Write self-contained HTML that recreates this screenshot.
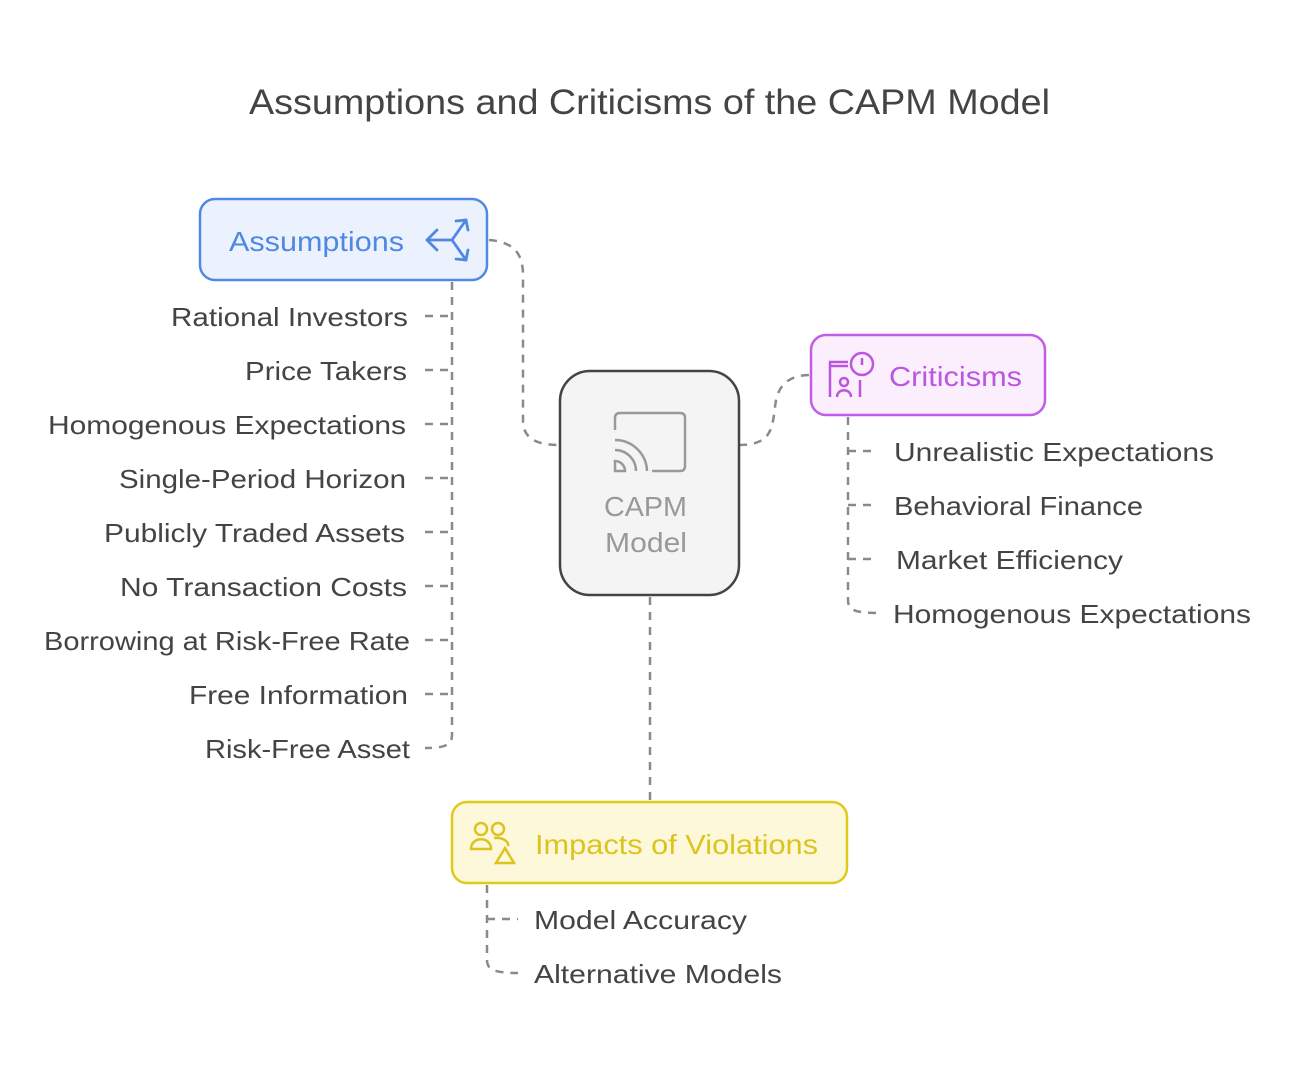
<!DOCTYPE html>
<html><head><meta charset="utf-8"><style>
body{margin:0;background:#fff}
text{font-family:"Liberation Sans",Roboto,sans-serif}
</style></head><body>
<svg width="1299" height="1065" viewBox="0 0 1299 1065" xmlns="http://www.w3.org/2000/svg">
<rect width="1299" height="1065" fill="#fff"/>
<text x="249" y="114" font-size="35" fill="#444" textLength="801" lengthAdjust="spacingAndGlyphs">Assumptions and Criticisms of the CAPM Model</text>
<g fill="none" stroke="#8a8a8a" stroke-width="2.5" stroke-dasharray="8,7">
<path d="M489,240 C515,242 523,255 523,275 L523,420 C523,438 535,445 560,445"/>
<path d="M739,445 C775,445 772,425 776,400 C780,382 792,375 811,375"/>
<path d="M650,597 L650,802"/>
<path d="M452,282 L452,735 C452,745 445,748 425,748"/>
<path d="M848,417 L848,600 C848,610 855,613 878,613"/>
<path d="M487,885 L487,960 C487,970 495,973 518,973"/>
</g>
<g stroke="#8a8a8a" stroke-width="2.5" stroke-dasharray="8,7" fill="none">
<path d="M425,316H452M425,370H452M425,424H452M425,478H452M425,532H452M425,586H452M425,640H452M425,694H452"/>
<path d="M848,451H878M848,505H878M848,559H878"/>
<path d="M487,919H518"/>
</g>
<rect x="200" y="199" width="287" height="81" rx="15" fill="#ebf2fe" stroke="#5089e4" stroke-width="2.5"/>
<text x="229" y="251" font-size="28" fill="#4f88e3" textLength="175" lengthAdjust="spacingAndGlyphs">Assumptions</text>
<g stroke="#4f88e3" stroke-width="2.8" fill="none" stroke-linecap="round" stroke-linejoin="round">
<path d="M427,240H452L466,220M452,240L466,260"/><path d="M437,230L427,240L437,250"/><path d="M456,221L466,220L468,230"/><path d="M456,259L466,260L468,250"/>
</g>
<rect x="811" y="335" width="234" height="80" rx="15" fill="#fbeefd" stroke="#c05ce6" stroke-width="2.5"/>
<text x="889" y="386" font-size="28" fill="#bb56e0" textLength="133" lengthAdjust="spacingAndGlyphs">Criticisms</text>
<g stroke="#bb56e0" stroke-width="2.5" fill="none">
<path d="M830,397V362H848"/><path d="M831,366H848"/><circle cx="862" cy="364" r="11"/><path d="M862,358V365"/><circle cx="844" cy="382" r="4"/><path d="M837,397C837,388 851,388 851,397"/><path d="M860,380V397"/>
</g>
<rect x="560" y="371" width="179" height="224" rx="30" fill="#f4f4f4" stroke="#444" stroke-width="2.5"/>
<g stroke="#999" stroke-width="2.5" fill="none">
<path d="M615,430V418Q615,413 620,413H680Q685,413 685,418V466Q685,471 680,471H652"/><path d="M615,440A32,32 0 0 1 647,471"/><path d="M615,450A21,21 0 0 1 636,471"/><path d="M615,461A10,10 0 0 1 625,471H615Z"/>
</g>
<text x="604" y="516" font-size="28" fill="#999" textLength="83" lengthAdjust="spacingAndGlyphs">CAPM</text>
<text x="605" y="552" font-size="28" fill="#999" textLength="82" lengthAdjust="spacingAndGlyphs">Model</text>
<rect x="452" y="802" width="395" height="81" rx="15" fill="#fdf8d9" stroke="#e1c81c" stroke-width="2.5"/>
<text x="535" y="854" font-size="28" fill="#dcc420" textLength="283" lengthAdjust="spacingAndGlyphs">Impacts of Violations</text>
<g stroke="#dcc420" stroke-width="2.5" fill="none">
<circle cx="481" cy="829" r="6"/><circle cx="498" cy="829" r="6"/><path d="M471,849C471,836 491,836 491,849Z"/><path d="M494,838C505,837 509,843 508,846"/><path d="M505,848L514,863H496Z"/>
</g>
<g font-size="26" fill="#444" text-anchor="end" lengthAdjust="spacingAndGlyphs">
<text x="408" y="326" textLength="237" lengthAdjust="spacingAndGlyphs">Rational Investors</text>
<text x="407" y="380" textLength="162" lengthAdjust="spacingAndGlyphs">Price Takers</text>
<text x="406" y="434" textLength="358" lengthAdjust="spacingAndGlyphs">Homogenous Expectations</text>
<text x="406" y="488" textLength="287" lengthAdjust="spacingAndGlyphs">Single-Period Horizon</text>
<text x="405" y="542" textLength="301" lengthAdjust="spacingAndGlyphs">Publicly Traded Assets</text>
<text x="407" y="596" textLength="287" lengthAdjust="spacingAndGlyphs">No Transaction Costs</text>
<text x="410" y="650" textLength="366" lengthAdjust="spacingAndGlyphs">Borrowing at Risk-Free Rate</text>
<text x="408" y="704" textLength="219" lengthAdjust="spacingAndGlyphs">Free Information</text>
<text x="410" y="758" textLength="205" lengthAdjust="spacingAndGlyphs">Risk-Free Asset</text>
</g>
<g font-size="26" fill="#444">
<text x="894" y="461" textLength="320" lengthAdjust="spacingAndGlyphs">Unrealistic Expectations</text>
<text x="894" y="515" textLength="249" lengthAdjust="spacingAndGlyphs">Behavioral Finance</text>
<text x="896" y="569" textLength="227" lengthAdjust="spacingAndGlyphs">Market Efficiency</text>
<text x="893" y="623" textLength="358" lengthAdjust="spacingAndGlyphs">Homogenous Expectations</text>
<text x="534" y="929" textLength="213" lengthAdjust="spacingAndGlyphs">Model Accuracy</text>
<text x="534" y="983" textLength="248" lengthAdjust="spacingAndGlyphs">Alternative Models</text>
</g>
</svg>
</body></html>
